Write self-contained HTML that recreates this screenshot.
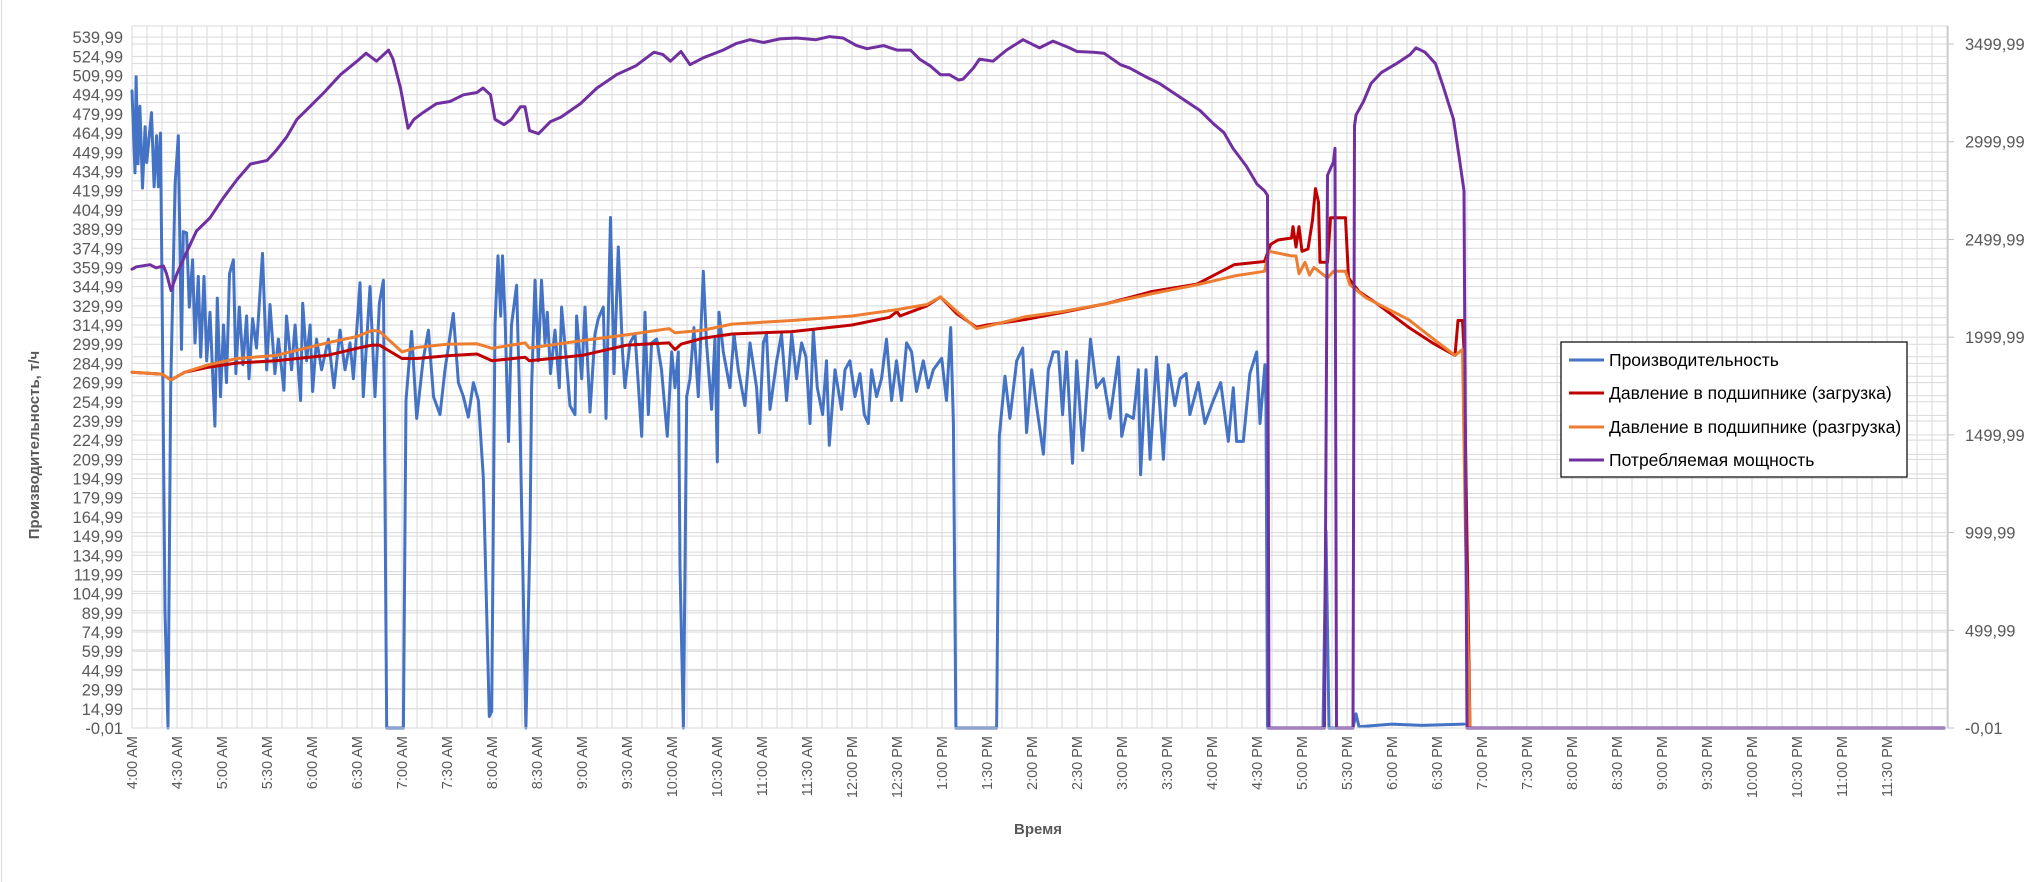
<!DOCTYPE html>
<html><head><meta charset="utf-8">
<style>
html,body{margin:0;padding:0;background:#fff;}
svg{display:block;}
text{font-family:"Liberation Sans","DejaVu Sans",sans-serif;}
</style></head>
<body>
<svg id="chart" width="2042" height="882" viewBox="0 0 2042 882" xmlns="http://www.w3.org/2000/svg">
<line x1="1.5" y1="0" x2="1.5" y2="882" stroke="#d9d9d9" stroke-width="1"/>
<g id="grid"></g>
<g id="series"></g>
<g id="axes"></g>
<text x="1038" y="834" text-anchor="middle" font-size="15" font-weight="bold" fill="#595959">Время</text>
<text transform="translate(39,445) rotate(-90)" text-anchor="middle" font-size="15" font-weight="bold" fill="#595959">Производительность, т/ч</text>
<g>
  <rect x="1561" y="342" width="346" height="135" fill="#fff" stroke="#000" stroke-width="1.2"/>
  <g><line x1="1569" y1="360" x2="1604" y2="360" stroke="#4472C4" stroke-width="3"/><text x="1609" y="366" font-size="17.5" fill="#000">Производительность</text></g>
  <g><line x1="1569" y1="393" x2="1604" y2="393" stroke="#C00000" stroke-width="3"/><text x="1609" y="399" font-size="17.5" fill="#000">Давление в подшипнике (загрузка)</text></g>
  <g><line x1="1569" y1="427" x2="1604" y2="427" stroke="#ED7D31" stroke-width="3"/><text x="1609" y="433" font-size="17.5" fill="#000">Давление в подшипнике (разгрузка)</text></g>
  <g><line x1="1569" y1="460" x2="1604" y2="460" stroke="#7030A0" stroke-width="3"/><text x="1609" y="466" font-size="17.5" fill="#000">Потребляемая мощность</text></g>
</g>
</svg>
<script>
// ---- data (time = minutes since 4:00 AM) ----
const xTickLabels = ["4:00 AM","4:30 AM","5:00 AM","5:30 AM","6:00 AM","6:30 AM","7:00 AM","7:30 AM","8:00 AM","8:30 AM","9:00 AM","9:30 AM","10:00 AM","10:30 AM","11:00 AM","11:30 AM","12:00 PM","12:30 PM","1:00 PM","1:30 PM","2:00 PM","2:30 PM","3:00 PM","3:30 PM","4:00 PM","4:30 PM","5:00 PM","5:30 PM","6:00 PM","6:30 PM","7:00 PM","7:30 PM","8:00 PM","8:30 PM","9:00 PM","9:30 PM","10:00 PM","10:30 PM","11:00 PM","11:30 PM"];
const leftTicks = [-0.01,14.99,29.99,44.99,59.99,74.99,89.99,104.99,119.99,134.99,149.99,164.99,179.99,194.99,209.99,224.99,239.99,254.99,269.99,284.99,299.99,314.99,329.99,344.99,359.99,374.99,389.99,404.99,419.99,434.99,449.99,464.99,479.99,494.99,509.99,524.99,539.99];
const rightTicks = [-0.01,499.99,999.99,1499.99,1999.99,2499.99,2999.99,3499.99];

const blueT = [0,2,2.7,4,5.3,7,8.7,9.8,13,14.7,16.4,17.6,19,19.8,22,24,25.8,28.7,30.9,33,34.2,36.4,38.2,40.4,42,44.2,45.8,48,49.8,52,55.3,56.9,59,61,63,65,67.6,69.3,71.5,74,76.4,78,80.4,83,87,89.8,92,95.3,97.6,101.3,103,106.4,108.7,112.4,113.8,116.4,118.7,120.4,123,126.4,130.9,134.7,138.7,142,145.3,147.6,152,154.2,158.7,162,164.9,167.6,169.8,180.9,182.7,186.4,189.8,194,197.6,201,205.3,208.7,214.2,217.6,220.9,224.2,227.6,230.9,234.2,238.2,239.8,242,244,245.8,247,248.7,251,253,256.4,258.2,262.6,265.3,266.4,268.7,270.9,273,275.3,276.9,279,282,284.9,286.4,289.3,292,295.3,296.4,299.8,302,305.3,308.7,310.9,314.2,316,319,321.3,324.2,327,328.6,332,335.3,339.8,342,344.2,346.4,349.8,353,356.9,359.8,362,364.2,365.3,367.6,369.8,372,374.6,377.5,380.9,383,386.4,388.6,390.2,391.3,394.2,398.6,401.3,404.2,408.6,412,416.4,418.2,420.9,423,425.3,429.8,433,436.4,439.8,443,446.4,449.3,452,454.2,456.9,460.4,463,464.9,468.7,473,475.3,478.6,482,485.3,488.2,490.9,493,496.4,499.7,503,506.4,509.7,513,516.4,519.7,523,527.5,530.9,534.2,539.8,543,545.8,547.6,549.3,576.4,578.2,582,585.3,589.8,593.8,596.4,599.8,603,607.6,610.9,614.2,617.6,620.4,623,627,629.8,633.8,639,643,647.6,652,657.6,659.8,663,667.6,670.9,672.4,676,678.7,683,687.6,690.9,695.3,698.7,702.7,705.3,710.9,715.3,720.9,725.8,730.9,734.2,736.4,740.9,745.3,749.8,752,755.3,756,757,794,796,798,814,816,818,840,860,888];
const blueV = [498,434,509,441,486,422,470,442,481,423,463,423,465,371,91,0,266,425,463,296,388,387,329,366,301,353,290,353,287,325,236,336,259,315,270,355,366,277,329,284,322,273,320,297,371,280,331,277,304,264,322,280,315,256,332,287,315,263,304,280,304,266,311,280,301,273,348,259,345,259,332,350,0,0,256,310,242,287,311,259,245,280,324,270,259,243,270,256,196,9,13,315,369,322,369,322,224,315,346,266,0,151,266,350,287,350,301,325,277,311,266,329,290,252,245,322,273,329,247,308,320,329,242,399,277,376,294,266,301,308,228,325,245,301,304,280,228,294,266,294,126,0,259,273,313,259,357,301,249,304,208,325,294,266,308,280,252,301,266,231,301,308,249,287,308,256,308,273,301,290,238,311,266,245,287,221,280,249,280,287,259,277,245,238,280,259,273,304,256,287,256,301,294,263,287,266,280,289,256,313,238,0,0,228,275,242,287,297,231,280,252,214,280,294,294,245,294,207,287,217,304,266,273,242,290,228,245,242,280,198,280,210,290,210,284,252,273,277,245,270,238,256,270,224,266,224,224,277,294,238,284,252,0,0,154,0,0,11,1,3,2,3];

const redT = [0,20,26,35,50,70,96,130,150,160,165,180,190,210,230,240,262,265,300,330,358,362,366,380,400,440,480,505,510,512,530,539,550,563,570,595,620,650,680,710,735,755,758,759,764,773,774,776,778,780,784,787,789,791,792,797,799,809,811,818,829,851,867,882,884,887,888,892,1208];
const redV = [278,276.6,272,278,281.8,285.3,287,291.2,296.8,299.3,299.3,288.8,288.8,291,292.3,287,289.8,287,291.2,299.3,301,295.8,300,304.5,308,309.8,315,321,325.5,322,330,337,323.7,313.3,315,319.2,324.8,331.8,341.2,347,362.2,364.6,374.4,377.9,381.4,383,391.9,376,391.9,372.6,374.4,397,421.6,411,364,364,398.9,398.9,351.7,341.2,332.5,313.3,301,291.2,318.5,318.5,295.8,0,0];

const orangeT = [0,20,26,35,50,70,96,130,150,160,165,180,190,210,230,240,262,265,300,330,358,362,380,400,440,480,510,530,539,550,563,570,595,620,650,680,710,735,755,758,773,776,778,782,785,788,797,801,809,812,823,851,871,882,887,889,892,1208];
const orangeV = [278,276.6,272,278,283.6,288.8,291.2,301,306,310.8,310,294,297.5,300,300.3,296.8,301,297,302.8,307.3,312.2,309,310.8,315.7,318.5,322,327,331,337,325.5,312.2,314,321.3,325.5,331.8,339.5,346.4,353.4,357,372.6,369,369,355,364,354,360,351.7,357,357,346.4,336,319.2,301,291.2,295.8,150,0,0];

const powerT = [0,3,12,16,21,23,26,30,36,43,52,61,70,79,90,96,103,110,119,128,139,150,156,163,171,174,179,184,188,194,203,212,221,230,234,239,242,248,253,259,262,265,271,279,286,299,310,323,336,348,354,359,366,372,381,394,403,412,421,432,443,456,465,474,483,490,501,510,519,525,532,539,545,551,554,561,565,574,583,594,605,614,625,630,641,648,659,665,676,685,694,703,712,721,728,734,743,750,755,757,758,795,797,801,802,803,814,815,816,821,826,833,843,852,856,862,869,874,881,885,888,890,1208];
const powerV = [2348,2360,2371,2355,2364,2325,2239,2325,2428,2543,2611,2714,2806,2886,2904,2954,3023,3115,3183,3252,3343,3412,3453,3412,3469,3423,3275,3069,3115,3149,3195,3206,3240,3252,3275,3240,3115,3087,3115,3179,3179,3057,3041,3103,3126,3195,3275,3343,3389,3458,3446,3412,3462,3394,3430,3469,3503,3522,3508,3526,3531,3522,3538,3531,3492,3476,3492,3469,3469,3423,3389,3343,3343,3316,3320,3378,3423,3412,3469,3522,3480,3515,3480,3462,3458,3453,3394,3378,3332,3298,3252,3206,3160,3092,3046,2966,2874,2783,2749,2726,0,0,2829,2897,2966,0,0,3080,3137,3206,3298,3355,3400,3446,3480,3458,3400,3286,3115,2909,2749,0,0];

// ---- axes ----
const PL = 132, PR = 1948, PT = 26, PB = 728;
function xScale(t){ return PL + t * 1.5; }
function yLeft(v){ return PB - (v + 0.01) * (19.19 / 15); }
function yRight(p){ return PB - (p + 0.01) * (97.71 / 500); }

const NS = "http://www.w3.org/2000/svg";
function mk(tag, attrs, parent){
  const e = document.createElementNS(NS, tag);
  for (const k in attrs) e.setAttribute(k, attrs[k]);
  parent.appendChild(e);
  return e;
}
const grid = document.getElementById('grid');
const axes = document.getElementById('axes');
const series = document.getElementById('series');

// vertical gridlines every 10 minutes
for (let t = 0; PL + t * 1.5 <= PR + 0.5; t += 10) {
  const l = mk('line', {x1: xScale(t), x2: xScale(t), y1: PT, y2: PB, stroke: '#d9d9d9', 'stroke-width': 1}, grid);
  
  
}
// horizontal gridlines (left axis)
leftTicks.forEach(v => {
  const l = mk('line', {x1: PL, x2: PR, y1: yLeft(v), y2: yLeft(v), stroke: '#d9d9d9', 'stroke-width': 1}, grid);
  
  
});
// horizontal gridlines (right axis, every 100)
for (let p = 0; p <= 3500; p += 100) {
  const l = mk('line', {x1: PL, x2: PR, y1: yRight(p), y2: yRight(p), stroke: '#d9d9d9', 'stroke-width': 1}, grid);
  
  
}
mk('line', {x1: PL, x2: PR, y1: PT, y2: PT, stroke: '#d9d9d9', 'stroke-width': 1}, grid);

// left tick labels
leftTicks.forEach(v => {
  const tx = mk('text', {x: 123, y: yLeft(v) + 6, 'text-anchor': 'end', 'font-size': 16.5, fill: '#595959'}, axes);
  
  
  tx.textContent = v.toFixed(2).replace('.', ',');
});
// right axis line, ticks, labels
mk('line', {x1: PR, x2: PR, y1: PT, y2: PB, stroke: '#bfbfbf', 'stroke-width': 1}, axes);
rightTicks.forEach(p => {
  mk('line', {x1: PR, x2: PR + 6, y1: yRight(p), y2: yRight(p), stroke: '#bfbfbf', 'stroke-width': 1}, axes);
  const tx = mk('text', {x: 1965, y: yRight(p) + 6, 'text-anchor': 'start', 'font-size': 16.5, fill: '#595959'}, axes);
  
  
  tx.textContent = p.toFixed(2).replace('.', ',');
});
// bottom axis line
mk('line', {x1: PL, x2: PR, y1: PB, y2: PB, stroke: '#d9d9d9', 'stroke-width': 1}, axes);
// x tick labels
xTickLabels.forEach((lab, i) => {
  const x = xScale(i * 30);
  const tx = mk('text', {transform: 'translate(' + (x + 5) + ',736) rotate(-90)', 'text-anchor': 'end', 'font-size': 14.5, fill: '#595959'}, axes);
  
  
  tx.textContent = lab;
});

// series
function drawSeries(T, V, yf, color, name){
  let d = '';
  for (let i = 0; i < T.length; i++) d += (i ? 'L' : 'M') + xScale(T[i]).toFixed(1) + ',' + yf(V[i]).toFixed(1);
  const p = mk('path', {d: d, fill: 'none', stroke: color, 'stroke-width': 3, 'stroke-linejoin': 'round', 'stroke-linecap': 'round'}, series);
  
  
}
drawSeries(blueT, blueV, yLeft, '#4472C4', 'productivity-line');
drawSeries(redT, redV, yLeft, '#C00000', 'pressure-load-line');
drawSeries(orangeT, orangeV, yLeft, '#ED7D31', 'pressure-unload-line');
drawSeries(powerT, powerV, yRight, '#7030A0', 'power-line');
</script>
</body></html>
